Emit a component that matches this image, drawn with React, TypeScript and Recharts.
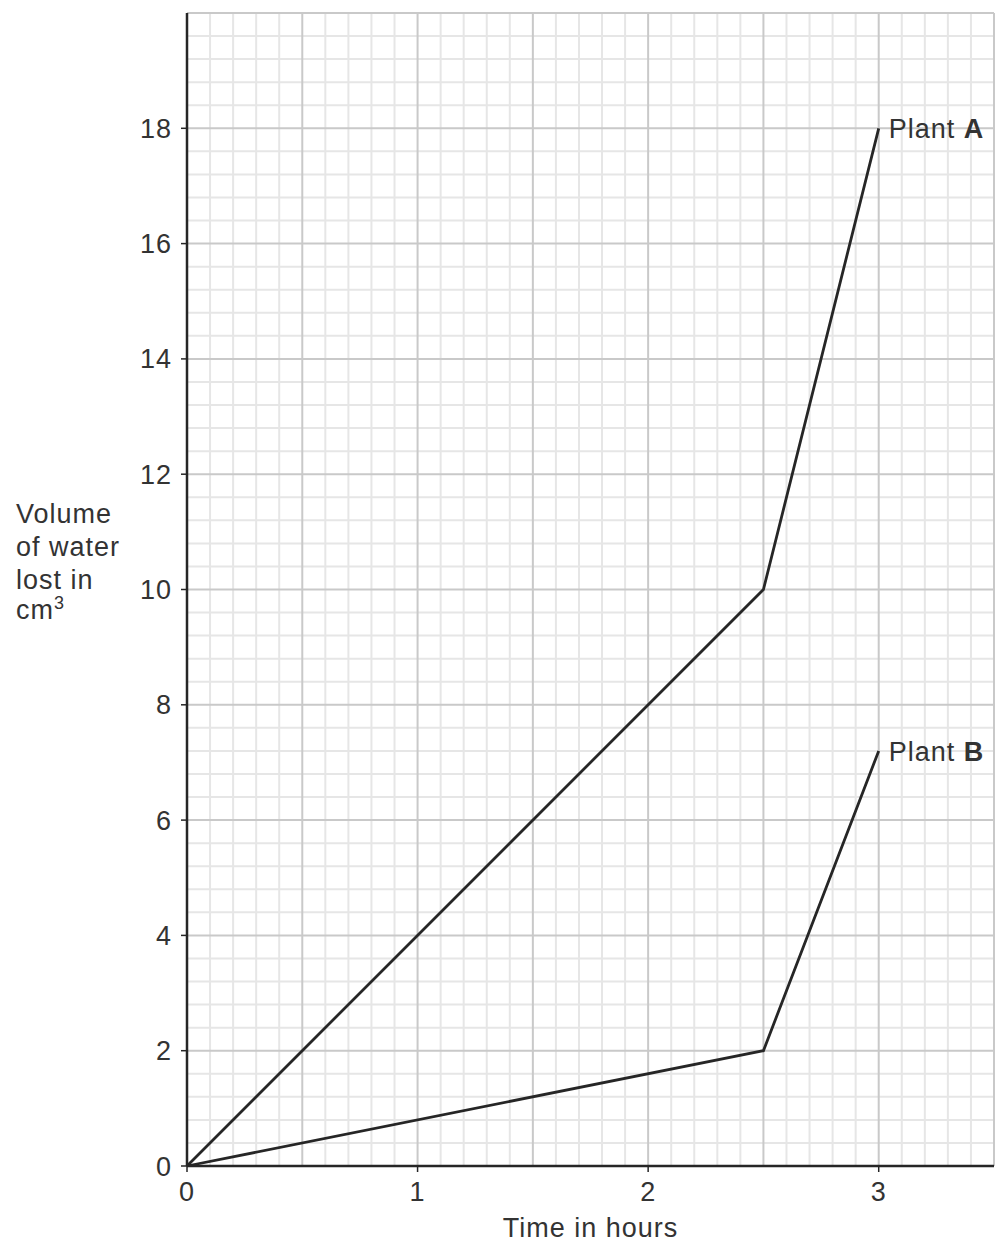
import { LineChart, Line, XAxis, YAxis, ReferenceLine } from "recharts";

const hours = [0, 2.5, 3];
const plantA = [0, 10, 18];
const plantB = [0, 2, 7.2];
const xTicks = [0, 1, 2, 3];
const yTicks = [0, 2, 4, 6, 8, 10, 12, 14, 16, 18];
const seriesNames = ["A", "B"];

const data = hours.map((t, i) => ({ t, a: plantA[i], b: plantB[i] }));

// graph-paper grid: fine lines every 0.1 h / 0.4 cm3, darker every 0.5 h / 2 cm3
const minorX = Array.from({ length: 36 }, (_, i) => +(i * 0.1).toFixed(1)).filter((v) => v % 0.5 !== 0);
const minorY = Array.from({ length: 51 }, (_, i) => +(i * 0.4).toFixed(1)).filter((v) => v % 2 !== 0);
const majorX = Array.from({ length: 7 }, (_, i) => (i + 1) * 0.5);
const majorY = Array.from({ length: 10 }, (_, i) => (i + 1) * 2);

const font = "'Liberation Sans', Arial, sans-serif";
const ink = "#262626";
const textInk = "#333";
const spacing = 1;

const endLabel = (name: string, last: number) => (props: any) => {
  if (props.index !== last) return null;
  return (
    <text
      x={props.x + 10}
      y={props.y + 10}
      fontSize={27}
      letterSpacing={spacing}
      fontFamily={font}
      fill={textInk}
    >
      Plant <tspan fontWeight="bold">{name}</tspan>
    </text>
  );
};

const YTitle = () => (
  <text fontSize={27} letterSpacing={spacing} fontFamily={font} fill={textInk}>
    <tspan x={16} y={523}>Volume</tspan>
    <tspan x={16} y={556}>of water</tspan>
    <tspan x={16} y={589}>lost in</tspan>
    <tspan x={16} y={619}>cm</tspan>
    <tspan dy={-10} fontSize={18}>3</tspan>
  </text>
);

export default function App() {
  return (
    <div style={{ position: "absolute", left: 0, top: 0, background: "#fff" }}>
      <LineChart
        width={996}
        height={1243}
        data={data}
        margin={{ top: 13, right: 2, bottom: 0, left: 0 }}
      >
        <XAxis
          dataKey="t"
          type="number"
          domain={[0, 3.5]}
          ticks={xTicks}
          height={77}
          axisLine={{ stroke: ink, strokeWidth: 2.5 }}
          tickLine={{ stroke: ink, strokeWidth: 1.5 }}
          tickSize={6}
          tickMargin={10}
          tick={{ fill: textInk, fontSize: 27, fontFamily: font, letterSpacing: spacing }}
          label={{
            value: "Time in hours",
            position: "insideBottom",
            offset: 6,
            fill: textInk,
            fontSize: 27,
            fontFamily: font,
            letterSpacing: spacing,
          }}
        />
        <YAxis
          type="number"
          domain={[0, 20]}
          ticks={yTicks}
          width={187}
          interval={0}
          axisLine={{ stroke: ink, strokeWidth: 2.5 }}
          tickLine={{ stroke: ink, strokeWidth: 1.5 }}
          tickSize={6}
          tickMargin={9}
          tick={{ fill: textInk, fontSize: 27, fontFamily: font, letterSpacing: spacing }}
          label={{ content: () => <YTitle /> }}
        />
        {minorX.map((v) => (
          <ReferenceLine key={"mx" + v} x={v} stroke="#e6e6e6" strokeWidth={2} />
        ))}
        {minorY.map((v) => (
          <ReferenceLine key={"my" + v} y={v} stroke="#e6e6e6" strokeWidth={2} />
        ))}
        {majorX.map((v) => (
          <ReferenceLine key={"Mx" + v} x={v} stroke="#c9c9c9" strokeWidth={2} />
        ))}
        {majorY.map((v) => (
          <ReferenceLine key={"My" + v} y={v} stroke="#c9c9c9" strokeWidth={2} />
        ))}
        <Line
          dataKey="a"
          stroke={ink}
          strokeWidth={2.8}
          dot={false}
          isAnimationActive={false}
          label={endLabel(seriesNames[0], hours.length - 1)}
        />
        <Line
          dataKey="b"
          stroke={ink}
          strokeWidth={2.8}
          dot={false}
          isAnimationActive={false}
          label={endLabel(seriesNames[1], hours.length - 1)}
        />
      </LineChart>
    </div>
  );
}
